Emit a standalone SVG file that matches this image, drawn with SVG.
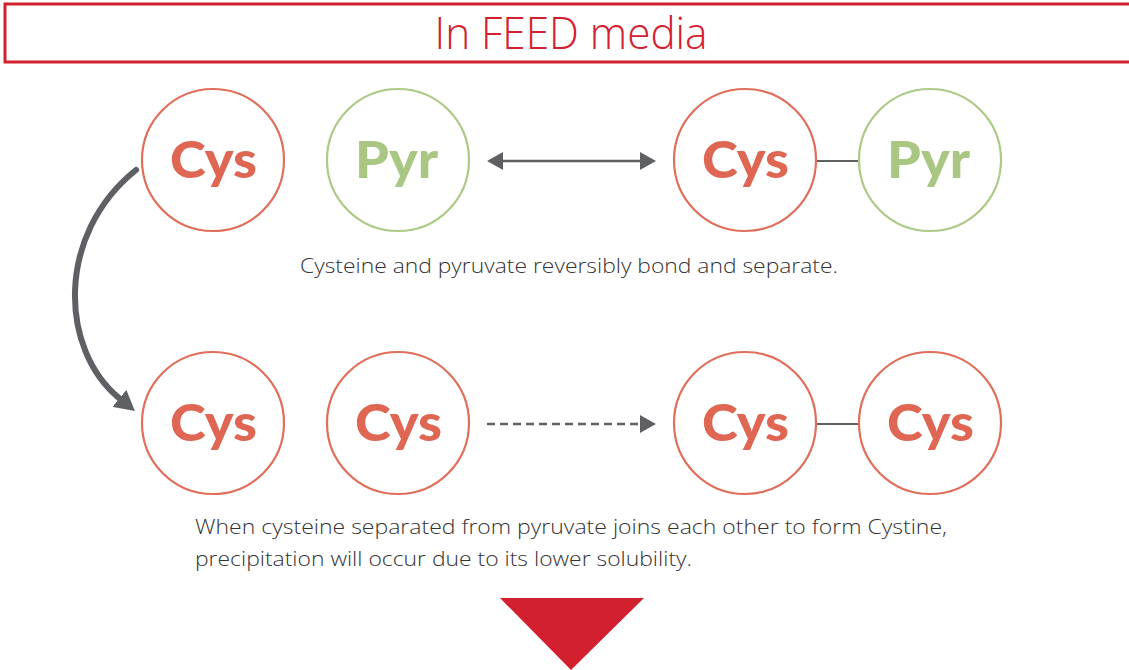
<svg xmlns="http://www.w3.org/2000/svg" width="1129" height="670" viewBox="0 0 1129 670">
<style>
  .cys-c{fill:#fff;stroke:#e06e5a;stroke-width:2.2}
  .pyr-c{fill:#fff;stroke:#aaca86;stroke-width:2.2}
  .cys-t{font-family:Lato,"Open Sans",sans-serif;font-weight:900;font-size:52px;fill:#df6652;text-anchor:middle}
  .pyr-t{font-family:Lato,"Open Sans",sans-serif;font-weight:900;font-size:52px;fill:#a9c783;text-anchor:middle}
  .cap{font-family:"Open Sans","Noto Sans",sans-serif;font-weight:300;font-size:21px;fill:#333333}
  .conn{stroke:#5f6064;stroke-width:2.5;fill:none}
  .bond{stroke:#5f6064;stroke-width:2.2;fill:none}
</style>
<defs>
  <marker id="ah" viewBox="0 0 16 18" refX="0" refY="9" markerWidth="16" markerHeight="18" markerUnits="userSpaceOnUse" orient="auto-start-reverse">
    <path d="M0,0 L16,9 L0,18 Z" fill="#5f6064"/>
  </marker>
  <marker id="ahc" viewBox="0 0 20 22" refX="0" refY="11" markerWidth="20" markerHeight="22" markerUnits="userSpaceOnUse" orient="auto">
    <path d="M0,0 L20,11 L0,22 Z" fill="#5f6064"/>
  </marker>
</defs>

<g id="header">
  <rect x="5" y="4" width="1130" height="58" fill="#fff" stroke="#d2202f" stroke-width="3"/>
  <text x="571" y="49" font-family="'Open Sans','Noto Sans',sans-serif" font-weight="300" font-size="44" fill="#d2202f" text-anchor="middle" textLength="273" lengthAdjust="spacingAndGlyphs">In FEED media</text>
</g>

<g id="connectors">
  <path class="conn" d="M503,161 L640,161" marker-start="url(#ah)" marker-end="url(#ah)"/>
  <line class="bond" x1="816" y1="161" x2="860" y2="161"/>
  <path class="conn" d="M487,424 L640,424" stroke-dasharray="8,5" marker-end="url(#ah)"/>
  <line class="bond" x1="816" y1="424" x2="860" y2="424"/>
  <path d="M136,170 C55,235 60,350 119.4,398.4" fill="none" stroke="#5f6064" stroke-width="6" stroke-linecap="round" marker-end="url(#ahc)"/>
</g>

<g id="cys-top-left">
  <circle class="cys-c" cx="213" cy="160" r="71"/>
  <text class="cys-t" x="213.5" y="178" textLength="87" lengthAdjust="spacingAndGlyphs">Cys</text>
</g>
<g id="pyr-top-left">
  <circle class="pyr-c" cx="398" cy="160" r="71"/>
  <text class="pyr-t" x="396.5" y="178" textLength="83" lengthAdjust="spacingAndGlyphs">Pyr</text>
</g>
<g id="cys-top-right">
  <circle class="cys-c" cx="745" cy="160" r="71"/>
  <text class="cys-t" x="745.5" y="178" textLength="87" lengthAdjust="spacingAndGlyphs">Cys</text>
</g>
<g id="pyr-top-right">
  <circle class="pyr-c" cx="930" cy="160" r="71"/>
  <text class="pyr-t" x="928.5" y="178" textLength="83" lengthAdjust="spacingAndGlyphs">Pyr</text>
</g>

<g id="caption-top">
  <text class="cap" x="300" y="273" textLength="538" lengthAdjust="spacingAndGlyphs">Cysteine and pyruvate reversibly bond and separate.</text>
</g>

<g id="cys-bot-1">
  <circle class="cys-c" cx="213" cy="423" r="71"/>
  <text class="cys-t" x="213.5" y="441" textLength="87" lengthAdjust="spacingAndGlyphs">Cys</text>
</g>
<g id="cys-bot-2">
  <circle class="cys-c" cx="398" cy="423" r="71"/>
  <text class="cys-t" x="398.5" y="441" textLength="87" lengthAdjust="spacingAndGlyphs">Cys</text>
</g>
<g id="cys-bot-3">
  <circle class="cys-c" cx="745" cy="423" r="71"/>
  <text class="cys-t" x="745.5" y="441" textLength="87" lengthAdjust="spacingAndGlyphs">Cys</text>
</g>
<g id="cys-bot-4">
  <circle class="cys-c" cx="930" cy="423" r="71"/>
  <text class="cys-t" x="930.5" y="441" textLength="87" lengthAdjust="spacingAndGlyphs">Cys</text>
</g>

<g id="caption-bottom">
  <text class="cap" x="195" y="534" textLength="752" lengthAdjust="spacingAndGlyphs">When cysteine separated from pyruvate joins each other to form Cystine,</text>
  <text class="cap" x="195" y="566" textLength="497" lengthAdjust="spacingAndGlyphs">precipitation will occur due to its lower solubility.</text>
</g>

<g id="down-triangle">
  <polygon points="500,598 644,598 571,670" fill="#d2202f"/>
</g>
</svg>
